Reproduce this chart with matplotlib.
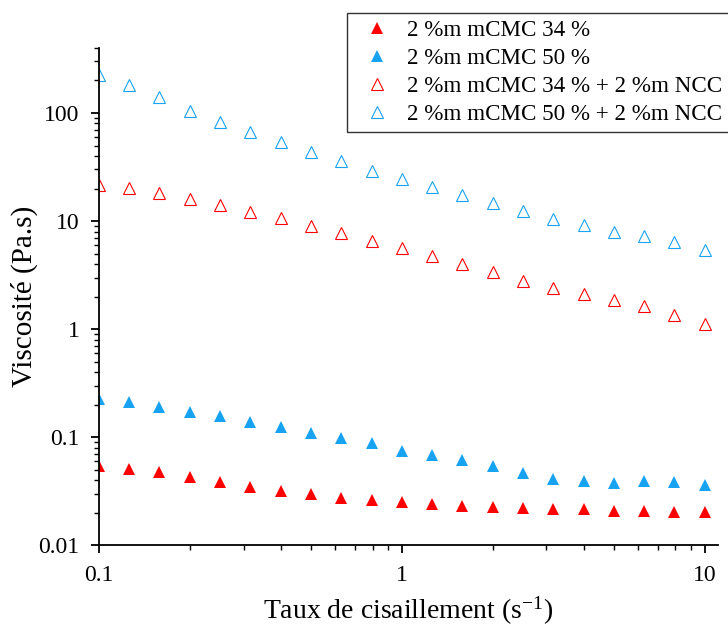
import numpy as np
import matplotlib
matplotlib.use("Agg")
import matplotlib.pyplot as plt
from matplotlib import font_manager
from matplotlib.ticker import LogLocator, FixedLocator, FixedFormatter, NullFormatter

names = set(f.name for f in font_manager.fontManager.ttflist)
serif = [n for n in ["Liberation Serif", "Times New Roman", "STIXGeneral"] if n in names]
plt.rcParams['font.family'] = serif + ['DejaVu Serif']
plt.rcParams['mathtext.fontset'] = 'stix'

# shear rate (s-1)
shear = [0.1, 0.126, 0.158, 0.2, 0.251, 0.316, 0.398, 0.501, 0.631, 0.794,
         1.0, 1.26, 1.58, 2.0, 2.51, 3.16, 3.98, 5.01, 6.31, 7.94, 10.0]

# viscosity (Pa.s)
mcmc34 = [0.054, 0.0506, 0.0474, 0.0426, 0.0383, 0.0344, 0.0316, 0.0297, 0.0272, 0.0261,
          0.025, 0.024, 0.023, 0.0225, 0.022, 0.0215, 0.0215, 0.0206, 0.0206, 0.0204, 0.0204]
mcmc50 = [0.225, 0.211, 0.19, 0.17, 0.156, 0.138, 0.124, 0.109, 0.098, 0.088,
          0.074, 0.068, 0.061, 0.054, 0.047, 0.041, 0.039, 0.0375, 0.039, 0.038, 0.036]
mcmc34_ncc = [21.5, 20.2, 18.2, 16.0, 14.1, 12.1, 10.7, 9.0, 7.7, 6.5,
              5.6, 4.7, 4.0, 3.4, 2.8, 2.4, 2.1, 1.85, 1.62, 1.35, 1.12]
mcmc50_ncc = [225, 180, 141, 104, 82.5, 66.7, 53.9, 43.5, 35.9, 29.0,
              24.5, 20.5, 17.5, 14.8, 12.4, 10.5, 9.1, 8.0, 7.3, 6.4, 5.4]

labels = ["2 %m mCMC 34 %", "2 %m mCMC 50 %",
          "2 %m mCMC 34 % + 2 %m NCC", "2 %m mCMC 50 % + 2 %m NCC"]

red = "#FF0000"
blue = "#18A2F2"

fig = plt.figure(figsize=(7.28, 6.28), dpi=100)
ax = fig.add_axes([0.136, 0.132, 0.850, 0.7916])

ms = 9
h1, = ax.plot(shear, mcmc34, "^", color=red, markersize=ms, markeredgewidth=0, linestyle="none")
h2, = ax.plot(shear, mcmc50, "^", color=blue, markersize=ms, markeredgewidth=0, linestyle="none")
h3, = ax.plot(shear, mcmc34_ncc, "^", markerfacecolor="none", markeredgecolor=red,
              markersize=ms, markeredgewidth=0.8, linestyle="none")
h4, = ax.plot(shear, mcmc50_ncc, "^", markerfacecolor="none", markeredgecolor=blue,
              markersize=ms, markeredgewidth=0.8, linestyle="none")

ax.set_xscale("log")
ax.set_yscale("log")
ax.set_xlim(0.1, 11.04)
ax.set_ylim(0.01, 400)

ax.xaxis.set_major_locator(FixedLocator([0.1, 1, 10]))
ax.xaxis.set_major_formatter(FixedFormatter(["0.1", "1", "10"]))
ax.yaxis.set_major_locator(FixedLocator([0.01, 0.1, 1, 10, 100]))
ax.yaxis.set_major_formatter(FixedFormatter(["0.01", "0.1", "1", "10", "100"]))
ax.xaxis.set_minor_locator(LogLocator(base=10, subs=np.arange(2, 10)))
ax.yaxis.set_minor_locator(LogLocator(base=10, subs=np.arange(2, 10)))
ax.xaxis.set_minor_formatter(NullFormatter())
ax.yaxis.set_minor_formatter(NullFormatter())

for s in ["top", "right"]:
    ax.spines[s].set_visible(False)
for s in ["left", "bottom"]:
    ax.spines[s].set_linewidth(1.3)

ax.tick_params(which="major", direction="out", length=6, width=1.3, labelsize=17, pad=8)
ax.tick_params(which="minor", direction="out", length=3.5, width=1.0)

ax.set_xlabel("Taux de cisaillement (s$^{\\mathregular{-1}}$)", fontsize=20, labelpad=6)
ax.set_ylabel("Viscosité (Pa.s)", fontsize=21, labelpad=0)

leg = fig.legend([h1, h2, h3, h4], labels, loc="upper left",
                 bbox_to_anchor=(347 / 728, 1 - 13 / 628), fontsize=16.6,
                 frameon=True, fancybox=False, framealpha=1, edgecolor="#333333",
                 handlelength=2.0, handletextpad=0.3, borderpad=0.3, labelspacing=0.3,
                 borderaxespad=0)
leg.get_frame().set_linewidth(1.0)

fig.savefig("out.png", dpi=100)
